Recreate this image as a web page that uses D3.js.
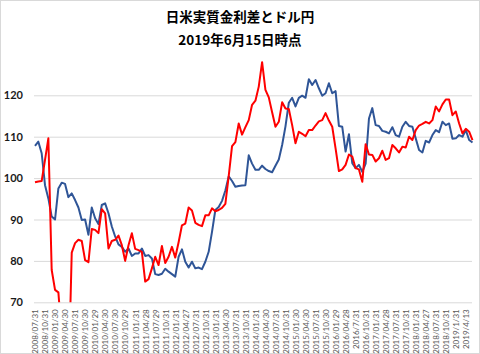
<!DOCTYPE html>
<html><head><meta charset="utf-8">
<script src="https://cdn.jsdelivr.net/npm/d3@7"></script>
<style>html,body{margin:0;padding:0;background:#fff;}svg{display:block;}</style>
</head><body>
<svg id="chart" width="480" height="354"></svg>
<script>
const title = "日米実質金利差とドル円";
const subtitle = "2019年6月15日時点";
const yTicks = [70, 80, 90, 100, 110, 120];
const tickLabels = ["2008/07/31","2008/10/31","2009/01/30","2009/04/30","2009/07/31","2009/10/30","2010/01/29","2010/04/30","2010/07/30","2010/10/29","2011/01/31","2011/04/28","2011/07/29","2011/10/31","2012/01/31","2012/04/27","2012/07/31","2012/10/31","2013/01/31","2013/04/30","2013/07/31","2013/10/31","2014/01/31","2014/04/30","2014/07/31","2014/10/31","2015/01/30","2015/04/30","2015/07/31","2015/10/30","2016/01/29","2016/04/28","2016/7/31","2016/10/31","2017/01/31","2017/04/28","2017/07/31","2017/10/31","2018/01/31","2018/04/27","2018/07/31","2018/10/31","2019/1/31","2019/4/13"];
// monthly series, 2008/07 .. 2019/06
const usdjpy = [107.8,108.8,106.0,98.3,95.1,90.7,90.0,97.5,98.9,98.6,
95.4,96.3,94.7,92.9,89.9,90.0,86.3,92.9,90.3,88.9,
93.5,93.9,91.5,88.3,85.9,84.0,83.4,82.2,83.0,81.2,
81.8,81.8,83.0,81.2,81.4,80.6,76.8,76.6,76.9,78.1,
77.4,76.8,76.2,81.0,82.8,79.8,78.4,79.8,78.2,78.4,
78.0,79.8,82.2,87.0,92.3,93.0,94.5,97.0,100.4,99.3,
97.9,98.1,98.2,98.3,105.5,103.5,102.0,102.0,103.0,102.2,
101.7,101.4,103.0,104.5,108.0,112.5,118.2,119.4,117.3,119.4,
119.9,119.4,123.9,122.5,123.7,121.7,119.9,120.5,122.9,120.5,
121.0,112.6,112.4,106.4,110.6,103.6,102.4,103.2,101.5,103.5,
114.4,116.9,112.8,112.6,111.4,111.2,110.8,112.3,110.4,110.0,
112.4,113.6,112.6,112.4,109.6,106.8,106.2,109.0,108.6,110.4,
111.6,111.1,113.6,112.8,113.2,109.5,109.6,110.4,110.0,111.6,
109.2,108.6];
const rateDiff = [99.0,99.2,99.3,104.4,109.6,77.8,73.0,72.4,62,58,
50,82,84.3,85.1,84.8,80.2,79.7,87.7,87.5,86.7,
92.5,91.5,83.0,84.8,85.1,86.1,83.8,80.0,83.8,86.7,
82.9,82.6,82.2,75.0,75.6,78.2,81.0,79.0,83.6,79.5,
81.0,83.4,80.8,84.5,88.6,89.0,92.9,92.2,89.2,88.7,
88.4,91.0,91.0,92.7,92.0,92.3,92.8,93.8,100.5,107.7,
108.7,113.2,110.5,112.3,114.0,117.7,118.7,122.1,128.0,121.3,
119.5,115.9,112.4,113.6,118.3,116.8,116.7,112.8,108.4,111.2,
110.7,110.1,111.6,111.6,112.7,113.7,114.0,115.7,113.9,112.4,
107.2,101.7,102.1,103.2,105.7,105.2,102.4,102.1,99.1,108.2,
105.7,105.6,104.0,104.8,106.6,104.4,104.8,108.0,107.2,106.2,
107.6,107.4,110.0,109.2,111.6,112.7,113.1,113.6,113.2,114.0,
117.3,116.1,117.8,119.0,119.0,115.2,116.1,113.2,110.8,111.9,
111.2,109.2];

const svg = d3.select("#chart");
svg.append("rect").attr("x",0.5).attr("y",0.5).attr("width",479).attr("height",353)
  .attr("fill","#fff").attr("stroke","#d9d9d9");

const plotLeft = 34, plotRight = 472, plotTop = 53.9, plotBottom = 302.3;
const x = d3.scaleLinear().domain([0, usdjpy.length - 1]).range([35, 472.5]);
const y = d3.scaleLinear().domain([70, 130]).range([plotBottom, plotTop]);

svg.append("text").attr("x",240).attr("y",22).attr("text-anchor","middle")
  .style("font-family","'Noto Sans CJK JP'").style("font-weight","bold").style("font-size","13.5px")
  .attr("fill","#000").text(title);
svg.append("text").attr("x",240).attr("y",44.5).attr("text-anchor","middle")
  .style("font-family","'Noto Sans CJK JP'").style("font-weight","bold").style("font-size","13.5px")
  .attr("fill","#000").text(subtitle);

// y axis + gridlines
const yAxis = svg.append("g").attr("transform",`translate(${plotLeft},0)`)
  .call(d3.axisLeft(y).tickValues(yTicks).tickSize(-(plotRight-plotLeft)).tickPadding(11).tickFormat(d3.format("d")));
yAxis.select(".domain").remove();
yAxis.selectAll(".tick line").attr("stroke","#d9d9d9").attr("stroke-width",1);
yAxis.selectAll(".tick text").style("font-family","Lato").style("font-weight","bold")
  .style("font-size","11px").attr("fill","#1a1a1a");

// x axis labels
const xAxis = svg.append("g").attr("transform",`translate(0,${plotBottom})`)
  .call(d3.axisBottom(x).tickValues(d3.range(0, usdjpy.length, 3)).tickSize(0)
    .tickFormat(i => tickLabels[i/3]));
xAxis.select(".domain").remove();
xAxis.selectAll(".tick text").attr("transform","rotate(-90)").attr("x",-7).attr("y",0)
  .attr("dy","0.35em").style("text-anchor","end")
  .style("font-family","Lato").style("font-size","8px").attr("fill","#595959");

svg.append("clipPath").attr("id","plotclip").append("rect")
  .attr("x",0).attr("y",plotTop-10).attr("width",480).attr("height",plotBottom-plotTop+10);

const line = d3.line().x((d,i) => x(i)).y(d => y(d));
const g = svg.append("g").attr("clip-path","url(#plotclip)");
g.append("path").datum(usdjpy).attr("d",line).attr("fill","none")
  .attr("stroke","#2F5597").attr("stroke-width",2).attr("stroke-linejoin","round");
g.append("path").datum(rateDiff).attr("d",line).attr("fill","none")
  .attr("stroke","#FF0000").attr("stroke-width",2).attr("stroke-linejoin","round");
</script>
</body></html>
